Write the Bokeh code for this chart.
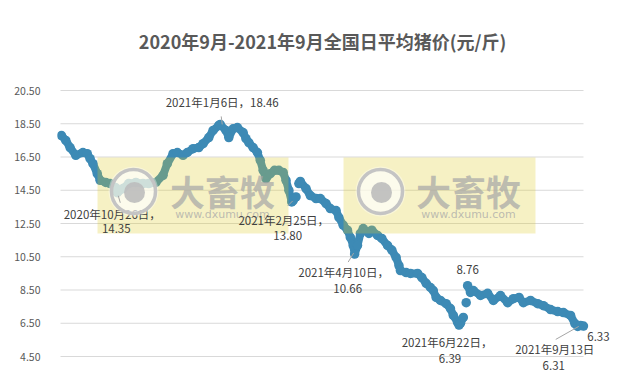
from datetime import datetime

from bokeh.plotting import figure
from bokeh.models import Range1d, FixedTicker, PrintfTickFormatter, Label, BoxAnnotation
from bokeh.embed import file_html
from bokeh.resources import INLINE

# ---------------- data ----------------
dates = [
    "2020-09-17", "2020-09-20", "2020-09-23", "2020-09-27", "2020-10-02", "2020-10-05", "2020-10-07",
    "2020-10-09", "2020-10-12", "2020-10-14", "2020-10-18", "2020-10-21", "2020-10-25", "2020-10-26",
    "2020-10-30", "2020-11-03", "2020-11-08", "2020-11-13", "2020-11-17", "2020-11-22", "2020-11-27",
    "2020-11-30", "2020-12-04", "2020-12-07", "2020-12-11", "2020-12-14", "2020-12-18", "2020-12-22",
    "2020-12-25", "2020-12-29", "2021-01-01", "2021-01-05", "2021-01-06", "2021-01-10", "2021-01-12",
    "2021-01-15", "2021-01-18", "2021-01-22", "2021-01-24", "2021-01-26", "2021-01-29", "2021-02-01",
    "2021-02-03", "2021-02-05", "2021-02-07", "2021-02-10", "2021-02-13", "2021-02-16", "2021-02-19",
    "2021-02-21", "2021-02-23", "2021-02-25", "2021-02-26", "2021-02-28", "2021-03-02", "2021-03-03",
    "2021-03-07", "2021-03-10", "2021-03-14", "2021-03-17", "2021-03-21", "2021-03-24", "2021-03-28",
    "2021-03-30", "2021-04-02", "2021-04-05", "2021-04-07", "2021-04-09", "2021-04-10", "2021-04-12",
    "2021-04-14", "2021-04-16", "2021-04-20", "2021-04-22", "2021-04-26", "2021-04-29", "2021-05-03",
    "2021-05-06", "2021-05-09", "2021-05-11", "2021-05-12", "2021-05-16", "2021-05-19", "2021-05-24",
    "2021-05-27", "2021-05-30", "2021-06-02", "2021-06-04", "2021-06-06", "2021-06-09", "2021-06-13",
    "2021-06-16", "2021-06-18", "2021-06-21", "2021-06-22", "2021-06-23", "2021-06-25", "2021-06-27",
    "2021-06-28", "2021-06-30", "2021-07-02", "2021-07-07", "2021-07-12", "2021-07-16", "2021-07-21",
    "2021-07-26", "2021-07-30", "2021-08-03", "2021-08-06", "2021-08-11", "2021-08-16", "2021-08-20",
    "2021-08-25", "2021-08-30", "2021-09-03", "2021-09-08", "2021-09-11", "2021-09-13", "2021-09-15",
    "2021-09-17",
]
prices = [
    17.79, 17.50, 17.07, 16.60, 16.77, 16.70, 16.40,
    16.10, 15.50, 15.10, 14.97, 14.90, 14.65, 14.35,
    14.60, 14.90, 14.97, 14.90, 14.90, 14.97, 15.40,
    16.10, 16.70, 16.77, 16.60, 16.77, 17.00, 17.07,
    17.30, 17.67, 18.10, 18.40, 18.46, 18.10, 17.67,
    18.20, 18.27, 17.97, 17.60, 17.37, 17.07, 16.77,
    16.30, 15.70, 15.20, 15.50, 15.70, 15.70, 15.57,
    15.10, 14.50, 13.80, 13.88, 14.10, 14.90, 15.03,
    14.60, 14.18, 14.00, 14.00, 13.70, 13.40, 13.28,
    12.86, 12.40, 12.10, 11.66, 11.18, 10.66, 11.18,
    11.90, 12.20, 11.90, 12.10, 11.78, 11.60, 11.18,
    10.90, 10.46, 9.97, 9.67, 9.55, 9.50, 9.50,
    9.25, 8.90, 8.65, 8.47, 8.05, 7.87, 7.68,
    7.38, 6.97, 6.55, 6.39, 6.50, 6.85, 7.74,
    8.76, 8.35, 8.47, 8.17, 8.30, 7.87, 8.17,
    7.74, 7.98, 8.05, 7.74, 7.87, 7.68, 7.56,
    7.32, 7.20, 7.14, 6.97, 6.48, 6.31, 6.37,
    6.33,
]
# where the daily series has gaps
breaks_after = ["2021-02-28", "2021-06-25", "2021-06-27"]

y_ticks = [4.5, 6.5, 8.5, 10.5, 12.5, 14.5, 16.5, 18.5, 20.5]

title_text = "2020年9月-2021年9月全国日平均猪价(元/斤)"

# annotated points
ann_dates = ["2020-10-26", "2021-01-06", "2021-02-25", "2021-04-10",
             "2021-06-22", "2021-06-28", "2021-09-13", "2021-09-17"]
ann_styles = ["two", "one", "two", "two", "two", "val", "two_nocomma", "val"]

watermark_big = "大畜牧"
watermark_small = "www.dxumu.com"

# ---------------- styling / layout ----------------
BLUE = "#3d8ab5"
TXT = "#404040"
AX = "#595959"
FONT = "Noto Sans CJK SC"

W, H = 619, 381
FRAME_LEFT = 57
PX_PER_DAY = 1.43
GRID_TOP_PX, GRID_BOTTOM_PX = 90, 356
GRID_LEFT_PX, GRID_RIGHT_PX = 60, 583
FIRST_POINT_PX = 61
PX_PER_UNIT = (GRID_BOTTOM_PX - GRID_TOP_PX) / (y_ticks[-1] - y_ticks[0])
DAY_MS = 86400000.0
EPOCH = datetime(1970, 1, 1)


def to_dt(s):
    return datetime.strptime(s, "%Y-%m-%d")


def ms(dt):
    return (dt - EPOCH).total_seconds() * 1000.0


xs = [to_dt(d) for d in dates]
D0_ms = ms(xs[0])


def px2x(px):
    return D0_ms + (px - FIRST_POINT_PX) / PX_PER_DAY * DAY_MS


def px2y(py):
    return y_ticks[-1] - (py - GRID_TOP_PX) / PX_PER_UNIT


def off_x(x, dpx):
    return x + dpx / PX_PER_DAY * DAY_MS


def off_y(y, dpx):
    return y - dpx / PX_PER_UNIT


p = figure(width=W, height=H, output_backend="svg", toolbar_location=None,
           x_axis_type="datetime",
           x_range=Range1d(px2x(FRAME_LEFT), px2x(W)), y_range=Range1d(px2y(H), px2y(0)),
           min_border_left=FRAME_LEFT, min_border_right=0,
           min_border_top=0, min_border_bottom=0)
p.outline_line_color = None
p.background_fill_color = "white"
p.border_fill_color = "white"
p.xaxis.visible = False
p.xgrid.visible = False
p.ygrid.visible = False
p.yaxis.ticker = FixedTicker(ticks=y_ticks)
p.yaxis.formatter = PrintfTickFormatter(format="%.2f")
p.yaxis.axis_line_color = None
p.yaxis.major_tick_line_color = None
p.yaxis.minor_tick_line_color = None
p.yaxis.major_label_standoff = 11
p.yaxis.major_label_text_font = FONT
p.yaxis.major_label_text_font_size = "10.5px"
p.yaxis.major_label_text_color = AX

# horizontal gridlines, limited to the plot area of the original
p.segment(x0=[px2x(GRID_LEFT_PX)] * len(y_ticks), x1=[px2x(GRID_RIGHT_PX)] * len(y_ticks),
          y0=y_ticks, y1=y_ticks, line_color="#d9d9d9", line_width=1, level="underlay")

# ---------------- series ----------------
seg_x, seg_y = [[]], [[]]
for d, x, v in zip(dates, xs, prices):
    seg_x[-1].append(x)
    seg_y[-1].append(v)
    if d in breaks_after:
        seg_x.append([])
        seg_y.append([])
for sx, sy in zip(seg_x, seg_y):
    if len(sx) > 1:
        p.line(sx, sy, line_color=BLUE, line_width=8, line_join="round", line_cap="round")
p.scatter(xs, prices, size=9.5, marker="circle", fill_color=BLUE, line_color=None)

# ---------------- watermarks ----------------
for (l, r, cx, tx) in [(97, 288, 133, 222), (343, 535, 380, 468)]:
    p.add_layout(BoxAnnotation(left=px2x(l), right=px2x(r), top=px2y(157), bottom=px2y(233),
                               fill_color="#decb25", fill_alpha=0.27, line_color=None))
    p.add_layout(Label(x=px2x(tx), y=px2y(190), text=watermark_big, text_align="center",
                       text_baseline="middle", text_font=FONT, text_font_style="bold",
                       text_font_size="35px", text_color="#a8a8a8", text_alpha=0.72))
    p.add_layout(Label(x=px2x(tx), y=px2y(214), text=watermark_small, text_align="center",
                       text_baseline="middle", text_font="DejaVu Sans",
                       text_font_size="11px", text_color="#a8a8a8", text_alpha=0.75))
    p.scatter([px2x(cx)], [px2y(191)], size=50, marker="circle", fill_color="white",
              fill_alpha=0.35, line_color=None, level="overlay")
    p.scatter([px2x(cx)], [px2y(191)], size=44, marker="circle", fill_color="white",
              fill_alpha=0.5, line_color="#c4c4c4", line_width=3.5, level="overlay")
    p.scatter([px2x(cx + 1)], [px2y(192)], size=21, marker="circle", fill_color="#bdbdbd",
              fill_alpha=0.9, line_color=None, level="overlay")


# ---------------- annotations ----------------
def lab(x, y, text, dx, dy, size="11.5px", color=TXT, bold=False):
    p.add_layout(Label(x=x, y=y, text=text, x_offset=dx, y_offset=-dy,
                       text_align="center", text_baseline="middle", text_font=FONT,
                       text_font_size=size, text_color=color,
                       text_font_style="bold" if bold else "normal"))


price_of = dict(zip(dates, prices))
offsets = {
    "2020-10-26": [(-5, 21), (-1, 36)],
    "2021-01-06": [(2, -22)],
    "2021-02-25": [(-8, 18), (-4, 34)],
    "2021-04-10": [(-11, 18), (-7, 34)],
    "2021-06-22": [(-12, 17), (-9, 33)],
    "2021-06-28": [(0, -16)],
    "2021-09-13": [(-23, 23), (-24, 39)],
    "2021-09-17": [(15, 10)],
}
leaders = {
    "2020-10-26": ((1, 3), (3, 10)),
    "2021-01-06": ((1, -8), (2, 0)),
    "2021-02-25": ((-4, 4), (1, -1)),
    "2021-04-10": ((-6.5, 8), (-1, -1)),
    "2021-09-13": ((-22, 13), (1, 0)),
}
for d, style in zip(ann_dates, ann_styles):
    dt = to_dt(d)
    v = price_of[d]
    x = ms(dt)
    date_txt = f"{dt.year}年{dt.month}月{dt.day}日"
    val_txt = f"{v:.2f}"
    offs = offsets[d]
    if style == "one":
        lab(x, v, date_txt + "，" + val_txt, *offs[0])
    elif style == "two":
        lab(x, v, date_txt + "，", *offs[0])
        lab(x, v, val_txt, *offs[1])
    elif style == "two_nocomma":
        lab(x, v, date_txt, *offs[0])
        lab(x, v, val_txt, *offs[1])
    else:
        lab(x, v, val_txt, *offs[0])
    if d in leaders:
        (ax0, ay0), (ax1, ay1) = leaders[d]
        p.segment(x0=[off_x(x, ax0)], y0=[off_y(v, ay0)], x1=[off_x(x, ax1)], y1=[off_y(v, ay1)],
                  line_color="#a6a6a6", line_width=1, level="overlay")

# title
lab(px2x(322), px2y(40), title_text, 0, 0, size="18px", color=AX, bold=True)

open("out.html", "w").write(file_html(p, INLINE))
